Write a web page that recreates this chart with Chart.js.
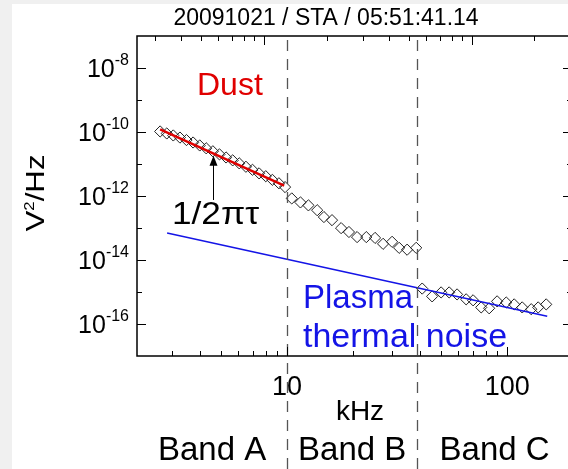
<!DOCTYPE html>
<html><head><meta charset="utf-8">
<script src="https://cdn.jsdelivr.net/npm/chart.js@4.4.0/dist/chart.umd.min.js"></script>
<style>
html,body{margin:0;padding:0;overflow:hidden;background:#f0f0f0;width:568px;height:469px}
canvas{position:absolute;left:0;top:0}
</style></head>
<body><canvas id="c" width="580" height="469"></canvas>
<script>
// ---- data ----
const freqA  = [2.65, 2.84, 3.04, 3.26, 3.49, 3.74, 4.01, 4.29, 4.60, 4.93, 5.28, 5.66, 6.06, 6.50, 6.96, 7.46, 8.00, 8.57, 9.18, 9.79];
const powerA = [1.04e-10, 9.0e-11, 7.8e-11, 6.7e-11, 5.6e-11, 4.7e-11, 3.8e-11, 3.1e-11, 2.5e-11, 2.0e-11, 1.6e-11, 1.3e-11, 1.05e-11, 8.2e-12, 6.6e-12, 5.1e-12, 4.15e-12, 3.2e-12, 2.5e-12, 1.9e-12];
const freqB  = [10.5, 11.5, 12.5, 13.7, 14.7, 16.0, 17.6, 19.1, 20.8, 22.9, 25.1, 27.3, 30.0, 32.3, 35.1, 38.6];
const powerB = [8.4e-13, 6.3e-13, 5.1e-13, 3.6e-13, 2.2e-13, 1.76e-13, 9.9e-14, 7.5e-14, 5.2e-14, 5.2e-14, 4.9e-14, 3.2e-14, 3.7e-14, 2.4e-14, 2.1e-14, 2.4e-14];
const freqC  = [41.1, 45.6, 50.1, 54.5, 59.2, 65.1, 70.0, 76.2, 82.8, 90.0, 99.0, 107.6, 117.0, 128.6, 138.3, 150.4];
const powerC = [1.28e-15, 7.3e-16, 9.7e-16, 9.7e-16, 8.4e-16, 5.9e-16, 5.5e-16, 3.3e-16, 3.1e-16, 5.1e-16, 4.7e-16, 4.1e-16, 3.3e-16, 2.9e-16, 3.3e-16, 4.1e-16];
const dustFitFreq   = [2.65, 9.7];
const dustFitPower  = [1.2e-10, 2.1e-12];
const thermalFreq   = [2.85, 152];
const thermalPower  = [6.95e-14, 1.74e-16];
const bandEdges     = [10, 39];
const bandLabels    = ['Band A', 'Band B', 'Band C'];
const xTickLabels   = [10, 100];
const yTickExponents = [-8, -10, -12, -14, -16];
const arrowFreq = 4.6, arrowFrom = 7.5e-13, arrowTo = 1.8e-11;
const titleText = '20091021 / STA / 05:51:41.14';

const FONT = '"Liberation Sans", Arial, sans-serif';
const pts = (xs, ys) => xs.map((x, i) => ({x, y: ys[i]}));
const allFreq = freqA.concat(freqB, freqC);
const allPower = powerA.concat(powerB, powerC);

function txt(ctx, s, x, y, size, color, align, sx) {
  ctx.save();
  ctx.font = size + 'px ' + FONT;
  ctx.fillStyle = color;
  ctx.textBaseline = 'alphabetic';
  const w = ctx.measureText(s).width * (sx || 1);
  let x0 = x;
  if (align === 'center') x0 = x - w / 2;
  else if (align === 'right') x0 = x - w;
  ctx.translate(x0, y);
  ctx.scale(sx || 1, 1);
  ctx.textAlign = 'left';
  ctx.fillText(s, 0, 0);
  ctx.restore();
}

const overlay = {
  id: 'overlay',
  beforeDraw(chart) {
    const ctx = chart.ctx;
    ctx.save();
    ctx.fillStyle = '#f0f0f0';
    ctx.fillRect(0, 0, chart.width, chart.height);
    ctx.fillStyle = '#ffffff';
    ctx.fillRect(12, 4, chart.width, chart.height);
    ctx.restore();
  },
  afterDraw(chart) {
    const ctx = chart.ctx, a = chart.chartArea;
    const xs = chart.scales.x, x2 = chart.scales.x2, ys = chart.scales.y;
    ctx.save();
    // dashed band edges
    ctx.strokeStyle = '#555';
    ctx.lineWidth = 1.3;
    ctx.setLineDash([11, 8]);
    bandEdges.forEach(f => {
      const x = Math.round(xs.getPixelForValue(f)) + 0.5;
      ctx.beginPath(); ctx.moveTo(x, a.top + 4); ctx.lineTo(x, chart.height); ctx.stroke();
    });
    ctx.setLineDash([]);
    // frame
    ctx.strokeStyle = '#000';
    ctx.lineWidth = 1.5;
    ctx.strokeRect(a.left, a.top, a.right - a.left, a.bottom - a.top);
    // ticks
    ctx.lineWidth = 1;
    ctx.beginPath();
    for (let k = 0; k <= 3; k++) {
      for (let n = 1; n <= 9; n++) {
        const v = n * Math.pow(10, k);
        const len = n === 1 ? 9 : 5;
        if (v > xs.min && v < xs.max) {
          const x = Math.round(xs.getPixelForValue(v)) + 0.5;
          ctx.moveTo(x, a.bottom); ctx.lineTo(x, a.bottom - len);
        }
        if (v > x2.min && v < x2.max) {
          const x = Math.round(x2.getPixelForValue(v)) + 0.5;
          ctx.moveTo(x, a.top); ctx.lineTo(x, a.top + len);
        }
      }
    }
    for (let e = -17; e <= -7; e++) {
      const v = Math.pow(10, e);
      if (v <= ys.min || v >= ys.max) continue;
      const y = Math.round(ys.getPixelForValue(v)) + 0.5;
      const len = (e % 2 === 0) ? 9 : 5;
      ctx.moveTo(a.left, y); ctx.lineTo(a.left + len, y);
      ctx.moveTo(a.right, y); ctx.lineTo(a.right - len, y);
    }
    ctx.stroke();
    // y tick labels
    yTickExponents.forEach(e => {
      const y = ys.getPixelForValue(Math.pow(10, e));
      ctx.font = '25px ' + FONT;
      const wb = ctx.measureText('10').width;
      ctx.font = '16px ' + FONT;
      const sup = String(e);
      const ws = ctx.measureText(sup).width;
      const R = 129;
      txt(ctx, '10', R - ws - wb, y + 9, 25, '#000', 'left');
      txt(ctx, sup, R - ws, y - 3, 16, '#000', 'left');
    });
    // x tick labels
    xTickLabels.forEach(v => {
      txt(ctx, String(v), xs.getPixelForValue(v), 395, 27, '#000', 'center');
    });
    txt(ctx, 'kHz', 360, 420, 28, '#000', 'center');
    // band labels
    const edges = [xs.getPixelForValue(xs.min)].concat(bandEdges.map(f => xs.getPixelForValue(f)), [xs.getPixelForValue(xs.max)]);
    bandLabels.forEach((s, i) => {
      txt(ctx, s, (edges[i] + edges[i + 1]) / 2, 460, 33, '#000', 'center');
    });
    // title
    txt(ctx, titleText, 326, 25, 23, '#000', 'center');
    // y axis title
    ctx.save();
    ctx.translate(35, 193);
    ctx.rotate(-Math.PI / 2);
    ctx.font = '26px ' + FONT;
    const wV = ctx.measureText('V').width, wH = ctx.measureText('/Hz').width;
    ctx.font = '14px ' + FONT;
    const w2 = ctx.measureText('2').width;
    const sx = 1.2;
    const tot = (wV + w2 + wH) * sx;
    let x0 = -tot / 2;
    txt(ctx, 'V', x0, 9, 26, '#000', 'left', sx); x0 += wV * sx;
    txt(ctx, '2', x0, -1, 14, '#000', 'left', sx); x0 += w2 * sx;
    txt(ctx, '/Hz', x0, 9, 26, '#000', 'left', sx);
    ctx.restore();
    // annotations
    txt(ctx, 'Dust', 197, 95, 32, '#e00000', 'left');
    txt(ctx, '1/2\u03c0\u03c4', 172, 224, 32, '#000', 'left', 1.1);
    txt(ctx, 'Plasma', 303, 308, 33, '#1414e6', 'left');
    txt(ctx, 'thermal noise', 303, 347, 33, '#1414e6', 'left', 1.03);
    // arrow
    const ax = Math.round(xs.getPixelForValue(arrowFreq)) + 0.5;
    const yb = ys.getPixelForValue(arrowFrom), yt = ys.getPixelForValue(arrowTo);
    ctx.strokeStyle = '#000'; ctx.lineWidth = 1;
    ctx.beginPath(); ctx.moveTo(ax, yb); ctx.lineTo(ax, yt + 8); ctx.stroke();
    ctx.fillStyle = '#000';
    ctx.beginPath(); ctx.moveTo(ax, yt); ctx.lineTo(ax - 4, yt + 10); ctx.lineTo(ax + 4, yt + 10); ctx.closePath(); ctx.fill();
    ctx.restore();
  }
};

new Chart(document.getElementById('c'), {
  type: 'scatter',
  data: {
    datasets: [
      { data: pts(dustFitFreq, dustFitPower), showLine: true, borderColor: '#e00000', borderWidth: 2.5, pointRadius: 0, order: 0 },
      { data: pts(thermalFreq, thermalPower), showLine: true, borderColor: '#1414e6', borderWidth: 1.5, pointRadius: 0, order: 0 },
      { data: pts(allFreq, allPower), showLine: false, pointStyle: 'rectRot', pointRadius: 5.6, borderColor: '#222', borderWidth: 1, backgroundColor: 'rgba(255,255,255,0)', order: 1 }
    ]
  },
  options: {
    responsive: false,
    animation: false,
    devicePixelRatio: 1,
    layout: { padding: { left: 137, top: 36, right: 8, bottom: 113 } },
    plugins: { legend: { display: false }, tooltip: { enabled: false }, title: { display: false } },
    scales: {
      x: { type: 'logarithmic', display: false, min: 2.08, max: 197 },
      x2: { type: 'logarithmic', display: false, position: 'top', min: 2.45, max: 303 },
      y: { type: 'logarithmic', display: false, min: 1e-17, max: 1e-7 }
    }
  },
  plugins: [overlay]
});
</script>
</body></html>
